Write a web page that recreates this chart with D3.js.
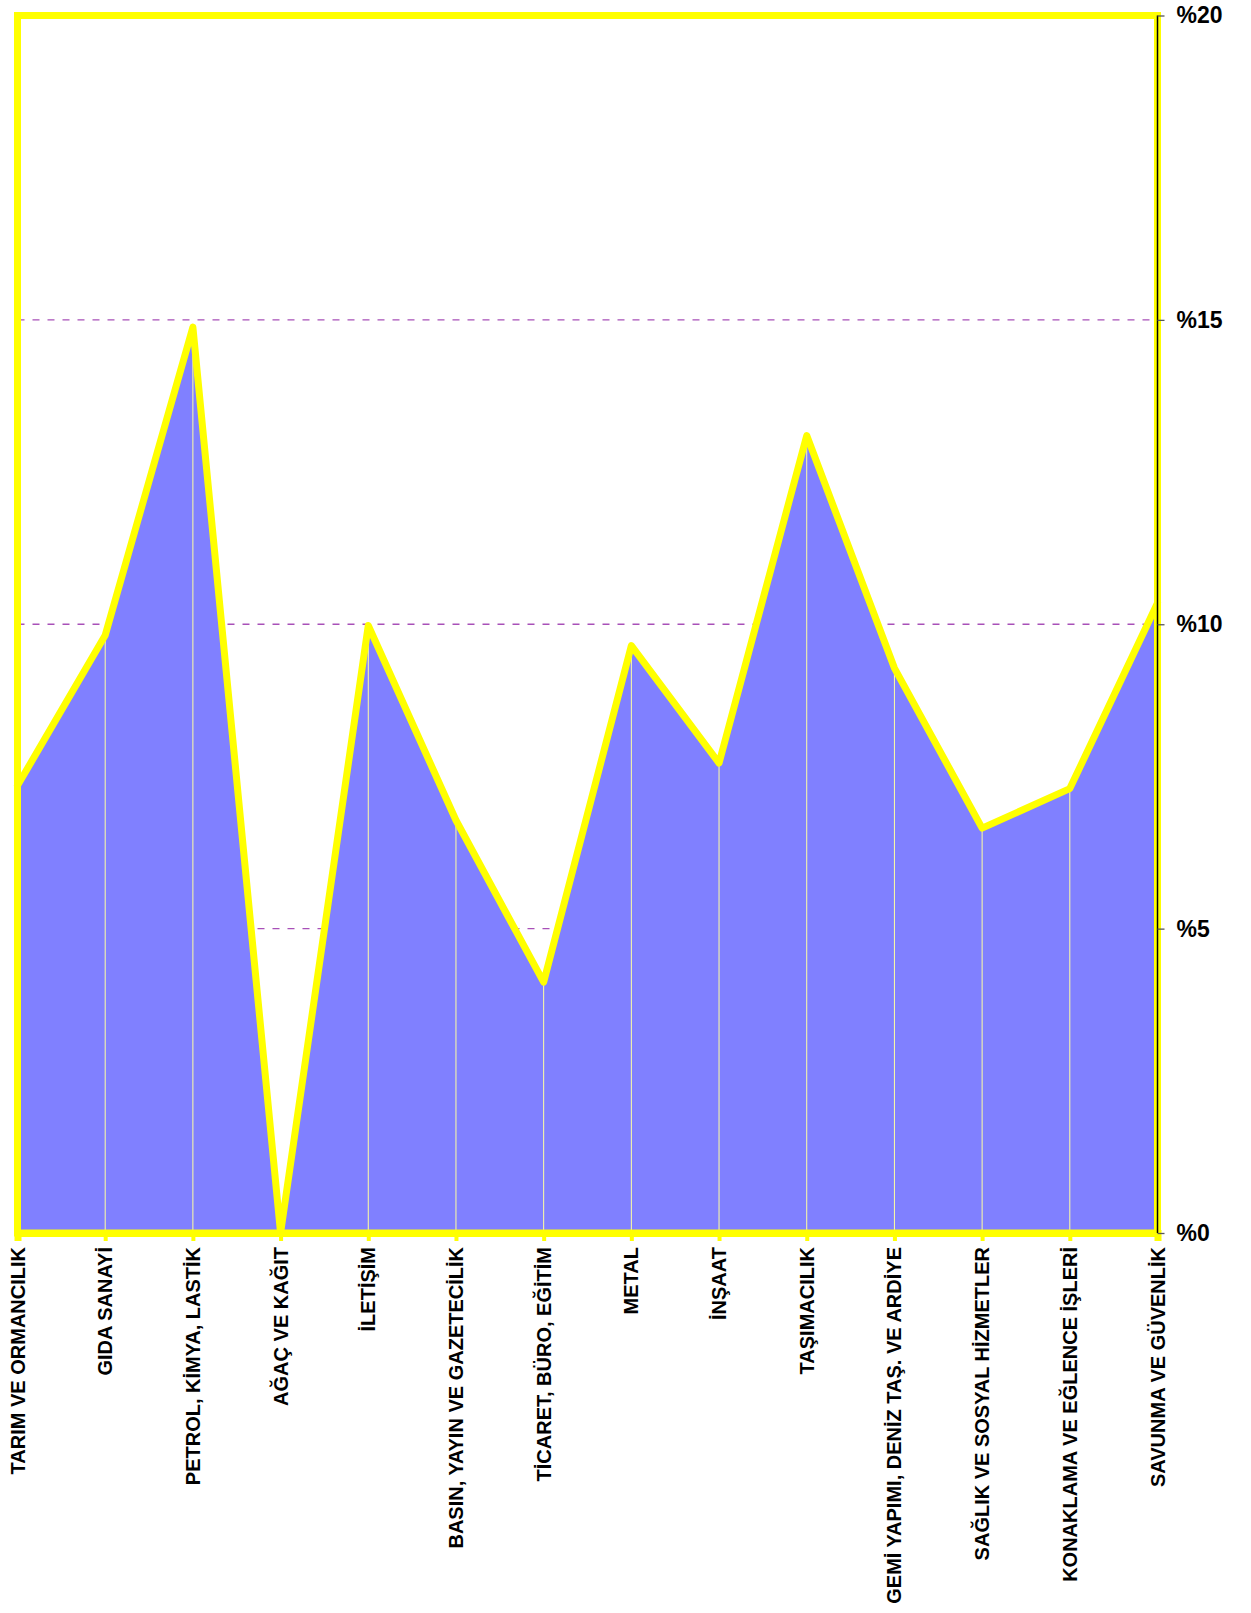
<!DOCTYPE html>
<html>
<head>
<meta charset="utf-8">
<script src="https://cdn.jsdelivr.net/npm/d3@7"></script>
<style>
html, body { margin: 0; padding: 0; background: #ffffff; }
svg { display: block; }
text { font-family: "Liberation Sans", Arial, sans-serif; font-weight: bold; fill: #000; }
</style>
</head>
<body>
<div id="chart"></div>
<script>
const categories = [
  "TARIM VE ORMANCILIK",
  "GIDA SANAYİ",
  "PETROL, KİMYA, LASTİK",
  "AĞAÇ VE KAĞIT",
  "İLETİŞİM",
  "BASIN, YAYIN VE GAZETECİLİK",
  "TİCARET, BÜRO, EĞİTİM",
  "METAL",
  "İNŞAAT",
  "TAŞIMACILIK",
  "GEMİ YAPIMI, DENİZ TAŞ. VE ARDİYE",
  "SAĞLIK VE SOSYAL HİZMETLER",
  "KONAKLAMA VE EĞLENCE İŞLERİ",
  "SAVUNMA VE GÜVENLİK"
];
const values = [7.35, 9.82, 14.88, 0, 9.98, 6.78, 4.12, 9.65, 7.72, 13.1, 9.28, 6.65, 7.3, 10.35];
const yTickValues = [0, 5, 10, 15, 20];
const yTickLabels = ["%0", "%5", "%10", "%15", "%20"];
const gridValues = [5, 10, 15];

(function () {
const W = 1251, H = 1613;
const pL = 17.5, pR = 1157.5, pT = 15.5, pB = 1233;

const svg = d3.select("#chart").append("svg").attr("width", W).attr("height", H);

const x = d3.scalePoint().domain(categories).range([pL, pR]);
const y = d3.scaleLinear().domain([0, 20]).range([pB, pT]);

// gridlines
svg.append("g").selectAll("line").data(gridValues).join("line")
  .attr("x1", pL).attr("x2", pR)
  .attr("y1", d => y(d)).attr("y2", d => y(d))
  .attr("stroke", "#a850b8").attr("stroke-width", 1.3)
  .attr("stroke-dasharray", "7,8");

const data = categories.map((c, i) => ({ c, v: values[i] }));

// area
svg.append("path").datum(data)
  .attr("fill", "#8080ff")
  .attr("d", d3.area().x(d => x(d.c)).y0(y(0)).y1(d => y(d.v)));

// drop lines
svg.append("g").selectAll("line").data(data).join("line")
  .attr("x1", d => x(d.c)).attr("x2", d => x(d.c))
  .attr("y1", d => y(d.v)).attr("y2", y(0))
  .attr("stroke", "#ffffa0").attr("stroke-width", 1);

// frame
svg.append("rect")
  .attr("x", pL).attr("y", pT)
  .attr("width", pR - pL).attr("height", pB - pT)
  .attr("fill", "none").attr("stroke", "#ffff00").attr("stroke-width", 7);

// line
svg.append("path").datum(data)
  .attr("fill", "none").attr("stroke", "#ffff00").attr("stroke-width", 7)
  .attr("stroke-linejoin", "round").attr("stroke-linecap", "round")
  .attr("d", d3.line().x(d => x(d.c)).y(d => y(d.v)));

// bottom axis
const xAxis = d3.axisBottom(x).tickSize(8).tickFormat("");
const gx = svg.append("g").attr("transform", `translate(0,${pB})`).call(xAxis);
gx.select(".domain").attr("stroke", "#ffff00").attr("stroke-width", 7);
gx.selectAll(".tick line").attr("stroke", "#ffff00").attr("stroke-width", 4);

// category labels
svg.append("g").selectAll("text").data(categories).join("text")
  .attr("transform", d => `translate(${x(d)},1247) rotate(-90)`)
  .attr("text-anchor", "end")
  .attr("dy", "0.35em")
  .attr("font-size", 20)
  .text(d => d);

// right axis
const yAxis = d3.axisRight(y).tickValues(yTickValues).tickSize(7).tickPadding(12)
  .tickFormat((d, i) => yTickLabels[i]);
const gy = svg.append("g").attr("transform", `translate(${pR},0)`).call(yAxis);
gy.select(".domain").attr("stroke", "#000").attr("stroke-width", 1.5).attr("d", `M0,${pT}V${pB}`);
gy.selectAll(".tick line").attr("stroke", "#555").attr("stroke-width", 1.3);
gy.selectAll(".tick text")
  .attr("font-size", 23).attr("font-family", "Liberation Sans, Arial, sans-serif")
  .attr("font-weight", "bold").attr("fill", "#000");
})();
</script>
</body>
</html>
